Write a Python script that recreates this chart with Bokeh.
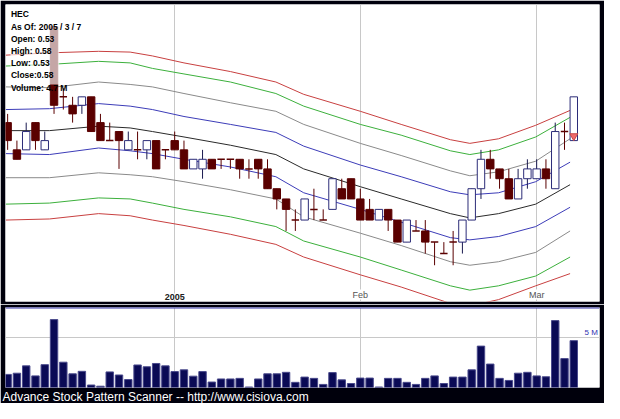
from bokeh.plotting import figure
from bokeh.layouts import column
from bokeh.models import (Range1d, FixedTicker, Grid, Label, BoxAnnotation, Span, Title)
from bokeh.embed import file_html
from bokeh.resources import INLINE

# ---------------- data ----------------
symbol = "HEC"
as_of = "2005 / 3 / 7"

opens = [0.55, 0.52, 0.52, 0.55, 0.52, 0.67, 0.58, 0.57, 0.57, 0.58,
         0.55, 0.53, 0.54, 0.52, 0.52, 0.52, 0.53, 0.52, 0.53, 0.52,
         0.50, 0.50, 0.51, 0.51, 0.51, 0.51, 0.50, 0.51, 0.50, 0.48,
         0.47, 0.45, 0.45, 0.46, 0.45, 0.46, 0.48, 0.49, 0.47, 0.46,
         0.45, 0.46, 0.45, 0.43, 0.44, 0.44, 0.43, 0.42, 0.43, 0.43,
         0.45, 0.48, 0.51, 0.50, 0.49, 0.47, 0.49, 0.49, 0.50, 0.48,
         0.54, 0.53]
highs = [0.56, 0.53, 0.55, 0.55, 0.54, 0.67, 0.59, 0.58, 0.58, 0.58,
         0.56, 0.55, 0.54, 0.54, 0.54, 0.53, 0.53, 0.52, 0.54, 0.53,
         0.51, 0.52, 0.51, 0.51, 0.51, 0.51, 0.51, 0.51, 0.51, 0.48,
         0.47, 0.46, 0.47, 0.48, 0.46, 0.49, 0.49, 0.49, 0.48, 0.47,
         0.46, 0.46, 0.45, 0.45, 0.45, 0.45, 0.43, 0.43, 0.44, 0.45,
         0.48, 0.52, 0.52, 0.50, 0.50, 0.50, 0.51, 0.51, 0.51, 0.55,
         0.55, 0.58]
lows = [0.52, 0.51, 0.52, 0.52, 0.52, 0.56, 0.565, 0.55, 0.56, 0.54,
        0.53, 0.53, 0.50, 0.52, 0.51, 0.51, 0.50, 0.51, 0.52, 0.50,
        0.50, 0.49, 0.50, 0.50, 0.50, 0.49, 0.49, 0.49, 0.48, 0.46,
        0.44, 0.44, 0.45, 0.45, 0.45, 0.46, 0.47, 0.47, 0.45, 0.45,
        0.45, 0.44, 0.43, 0.43, 0.44, 0.42, 0.41, 0.42, 0.41, 0.42,
        0.45, 0.47, 0.49, 0.48, 0.47, 0.47, 0.48, 0.49, 0.48, 0.48,
        0.52, 0.53]
closes = [0.53, 0.51, 0.54, 0.53, 0.53, 0.57, 0.58, 0.56, 0.58, 0.54,
          0.53, 0.53, 0.53, 0.53, 0.52, 0.53, 0.50, 0.52, 0.52, 0.50,
          0.51, 0.51, 0.50, 0.51, 0.51, 0.50, 0.50, 0.50, 0.48, 0.47,
          0.46, 0.45, 0.47, 0.46, 0.45, 0.49, 0.47, 0.47, 0.45, 0.45,
          0.46, 0.45, 0.43, 0.45, 0.44, 0.43, 0.43, 0.42, 0.43, 0.45,
          0.48, 0.51, 0.50, 0.49, 0.47, 0.49, 0.50, 0.50, 0.49, 0.54,
          0.54, 0.58]
volumes_m = [1.32, 1.44, 2.18, 1.17, 2.30, 6.84, 2.55, 1.38, 1.63, 0.25,
             0.13, 1.57, 1.26, 0.80, 2.27, 2.09, 2.42, 2.18, 1.60, 1.78,
             1.14, 1.60, 0.55, 0.86, 0.86, 0.92, 0.05, 0.86, 1.38, 1.38,
             1.53, 0.52, 1.05, 0.92, 0.31, 1.50, 0.77, 0.40, 0.95, 0.95,
             0.05, 0.92, 0.92, 0.52, 0.31, 0.92, 1.17, 0.40, 1.05, 1.05,
             1.78, 4.17, 2.36, 0.92, 0.71, 1.44, 1.53, 1.17, 1.08, 6.74,
             2.91, 4.72]

tick_idx = [18, 38, 57]
tick_labels = ["2005", "Feb", "Mar"]
vol_tick = [5]
vol_tick_label = "5 M"

signal_idx = [61]
signal_price = [0.535]

band_idx = [-0.2, 4.5, 9.8, 13.2, 15.6, 19.0, 24.0, 28.9, 31.9, 38.0,
            42.4, 47.7, 49.8, 52.9, 56.9, 60.6]
band_red_up = [0.632, 0.635, 0.637, 0.636, 0.631, 0.622, 0.611, 0.598, 0.583, 0.563,
               0.548, 0.531, 0.527, 0.532, 0.547, 0.564]
band_green_up = [0.618, 0.620, 0.624, 0.622, 0.615, 0.608, 0.598, 0.584, 0.569, 0.548,
                 0.536, 0.519, 0.515, 0.520, 0.534, 0.556]
band_gray_up = [0.592, 0.591, 0.598, 0.595, 0.592, 0.584, 0.573, 0.563, 0.548, 0.527,
                0.514, 0.498, 0.493, 0.497, 0.508, 0.532]
band_blue_up = [0.565, 0.566, 0.572, 0.569, 0.565, 0.557, 0.548, 0.539, 0.524, 0.504,
                0.492, 0.477, 0.474, 0.476, 0.487, 0.507]
band_center = [0.541, 0.541, 0.546, 0.544, 0.540, 0.534, 0.525, 0.515, 0.500, 0.482,
               0.470, 0.456, 0.452, 0.456, 0.465, 0.484]
band_blue_dn = [0.516, 0.515, 0.522, 0.519, 0.516, 0.510, 0.502, 0.492, 0.476, 0.460,
                0.448, 0.434, 0.432, 0.435, 0.444, 0.462]
band_gray_dn = [0.491, 0.491, 0.496, 0.494, 0.492, 0.487, 0.479, 0.470, 0.453, 0.438,
                0.427, 0.413, 0.410, 0.413, 0.421, 0.440]
band_green_dn = [0.465, 0.466, 0.471, 0.470, 0.466, 0.460, 0.453, 0.444, 0.431, 0.417,
                 0.406, 0.393, 0.3895, 0.393, 0.401, 0.417]
band_red_dn = [0.450, 0.451, 0.456, 0.454, 0.450, 0.445, 0.437, 0.428, 0.417, 0.402,
               0.392, 0.379, 0.377, 0.382, 0.393, 0.403]

# ---------------- styling ----------------
BG = "#00000c"
MAROON = "#5a0000"
NAVY = "#2c2c78"
FONT = "Liberation Sans"

n = len(closes)
idx = list(range(n))
x_rng = Range1d(-0.23, 63.77)

# ---------------- price panel ----------------
p = figure(width=604, height=304, x_range=x_rng, y_range=Range1d(0.3805, 0.7015),
           y_axis_type="log", x_axis_location=None, y_axis_location=None,
           output_backend="svg", toolbar_location=None,
           min_border_left=5, min_border_right=5, min_border_top=4, min_border_bottom=3,
           background_fill_color="white", border_fill_color=BG, outline_line_color=None)
p.xgrid.visible = False
p.ygrid.visible = False
p.add_layout(Grid(dimension=0, ticker=FixedTicker(ticks=tick_idx),
                  grid_line_color="#c8c8c8", grid_line_width=1))

band_specs = [(band_red_up, "#c84040"), (band_green_up, "#3cb03c"),
              (band_gray_up, "#8a8a8a"), (band_blue_up, "#3c3cb8"),
              (band_center, "#2a2a2a"), (band_blue_dn, "#3c3cb8"),
              (band_gray_dn, "#8a8a8a"), (band_green_dn, "#3cb03c"),
              (band_red_dn, "#c84040")]
for vals, col in band_specs:
    p.line(band_idx, vals, line_color=col, line_width=1)

up_i = [i for i in idx if closes[i] > opens[i]]
dn_i = [i for i in idx if closes[i] < opens[i]]
eq_i = [i for i in idx if closes[i] == opens[i]]

# wicks
p.segment(x0=[i for i in up_i], y0=[lows[i] for i in up_i],
          x1=[i for i in up_i], y1=[highs[i] for i in up_i],
          line_color="#1a1a50", line_width=1)
p.segment(x0=[i for i in dn_i + eq_i], y0=[lows[i] for i in dn_i + eq_i],
          x1=[i for i in dn_i + eq_i], y1=[highs[i] for i in dn_i + eq_i],
          line_color=MAROON, line_width=1)
# bodies
p.vbar(x=up_i, width=0.8, bottom=[opens[i] for i in up_i], top=[closes[i] for i in up_i],
       fill_color="white", line_color=NAVY, line_width=1)
p.vbar(x=dn_i, width=0.8, bottom=[closes[i] for i in dn_i], top=[opens[i] for i in dn_i],
       fill_color=MAROON, line_color=MAROON, line_width=1)
p.segment(x0=[i - 0.4 for i in eq_i], y0=[closes[i] for i in eq_i],
          x1=[i + 0.4 for i in eq_i], y1=[closes[i] for i in eq_i],
          line_color=MAROON, line_width=1.5)

p.scatter(signal_idx, signal_price, marker="inverted_triangle", size=8,
          fill_color="#f06a6a", line_color="#c84848")

# legend box
p.add_layout(BoxAnnotation(left=0.3, right=5.55, bottom=0.595, top=0.7015,
                           fill_color="white", fill_alpha=0.65, line_color=None))
legend_text = "\n".join([
    symbol,
    f"As Of: {as_of}",
    f"Open: {opens[-1]:.2f}",
    f"High: {highs[-1]:.2f}",
    f"Low: {lows[-1]:.2f}",
    f"Close:{closes[-1]:.2f}",
    f"Volume: {volumes_m[-1]:.1f} M",
])
p.add_layout(Label(x=0.35, y=0.6945, text=legend_text, text_baseline="top",
                   text_align="left", text_font=FONT, text_font_size="8.5px",
                   text_font_style="bold", text_color="black", text_line_height=1.22))

for t, lab in zip(tick_idx, tick_labels):
    bold = lab.isdigit()
    p.add_layout(Label(x=t, y=0.3805, y_offset=2, text=lab, text_align="center",
                       text_baseline="bottom", text_font=FONT, text_font_size="9px",
                       text_font_style="bold" if bold else "normal",
                       text_color="#202020" if bold else "#555555",
                       background_fill_color="white"))

# ---------------- volume panel ----------------
v = figure(width=604, height=99, x_range=x_rng, y_range=Range1d(0, 8.06),
           x_axis_location=None, y_axis_location=None,
           output_backend="svg", toolbar_location=None,
           min_border_left=5, min_border_right=5, min_border_top=3, min_border_bottom=0,
           background_fill_color="white", border_fill_color=BG, outline_line_color=None)
v.xgrid.visible = False
v.ygrid.visible = False
v.add_layout(Grid(dimension=0, ticker=FixedTicker(ticks=tick_idx),
                  grid_line_color="#c8c8c8", grid_line_width=1))
v.add_layout(Grid(dimension=1, ticker=FixedTicker(ticks=vol_tick),
                  grid_line_color="#c8c8c8", grid_line_width=1))
v.vbar(x=idx, width=0.8, top=volumes_m, bottom=0,
       fill_color="#0a0a55", line_color="#4a4a8c", line_width=1)
v.add_layout(Span(location=8.06, dimension="width", line_color="#3434a8", line_width=2))
v.add_layout(Label(x=63.6, y=vol_tick[0], y_offset=1, text=vol_tick_label,
                   text_align="right", text_baseline="bottom", text_font=FONT,
                   text_font_size="8px", text_color="#3030b0"))
v.add_layout(Title(text="Advance Stock Pattern Scanner -- http://www.cisiova.com",
                   align="left", text_color="white", text_font=FONT,
                   text_font_size="12px", text_font_style="normal",
                   offset=-3, standoff=0), "below")

layout = column(p, v, spacing=0)
open("out.html", "w").write(file_html(layout, INLINE))
